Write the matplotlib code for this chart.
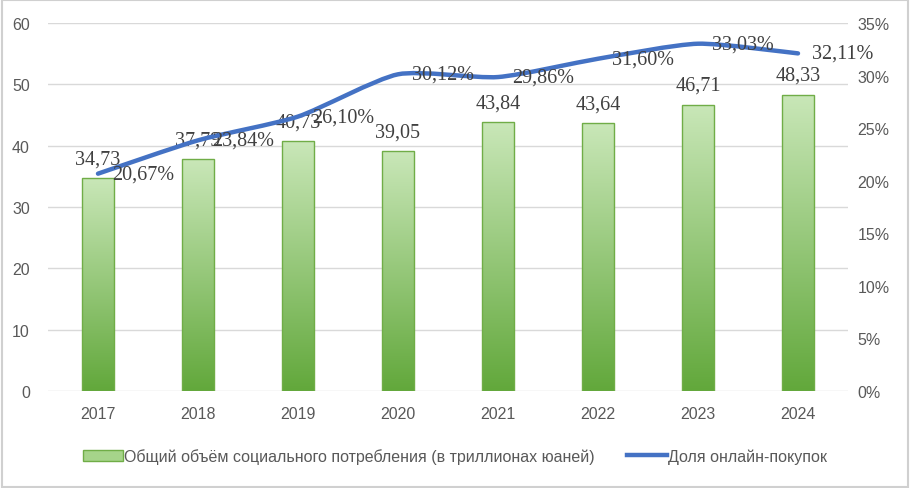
import numpy as np
from matplotlib import pyplot as plt
from matplotlib.patches import Patch, Rectangle, PathPatch
from matplotlib.path import Path
from matplotlib.lines import Line2D
from matplotlib.colors import LinearSegmentedColormap

years = ['2017', '2018', '2019', '2020', '2021', '2022', '2023', '2024']
consumption = [34.73, 37.79, 40.73, 39.05, 43.84, 43.64, 46.71, 48.33]
online_share = [20.67, 23.84, 26.10, 30.12, 29.86, 31.60, 33.03, 32.11]

bar_label = 'Общий объём социального потребления (в триллионах юаней)'
line_label = 'Доля онлайн-покупок'

narrow = ['Liberation Sans Narrow', 'Liberation Sans', 'DejaVu Sans']
serif = ['Liberation Serif', 'DejaVu Serif']
grey = '#595959'
blue = '#4472c4'

def fmt(v, pct=False):
    s = ('%.2f' % v).replace('.', ',')
    return s + '%' if pct else s

def smooth_path(xs, ys, k=0.11):
    # excel-like smoothed line: bezier control points from neighbours
    xs = np.asarray(xs, float); ys = np.asarray(ys, float)
    n = len(xs)
    verts = [(xs[0], ys[0])]
    codes = [Path.MOVETO]
    for i in range(n-1):
        p0 = i-1 if i > 0 else i
        p3 = i+2 if i+2 < n else i+1
        c1 = (xs[i] + (xs[i+1]-xs[p0])*k, ys[i] + (ys[i+1]-ys[p0])*k)
        c2 = (xs[i+1] - (xs[p3]-xs[i])*k, ys[i+1] - (ys[p3]-ys[i])*k)
        verts += [c1, c2, (xs[i+1], ys[i+1])]
        codes += [Path.CURVE4]*3
    return Path(verts, codes)

fig = plt.figure(figsize=(9.1, 4.89), dpi=100)
ax = fig.add_axes([48/910, 1-392/489, 800/910, 368/489])
ax2 = ax.twinx()

x = np.arange(len(years))
bars = ax.bar(x, consumption, width=0.32, facecolor='none',
              edgecolor='#70ad47', linewidth=1.0, zorder=3)

cmap = LinearSegmentedColormap.from_list('g', ['#62a83b', '#c9e7b8'])
grad = np.linspace(0, 1, 256).reshape(-1, 1)
for b in bars:
    im = ax.imshow(grad, cmap=cmap, origin='lower', aspect='auto',
                   extent=[b.get_x(), b.get_x()+b.get_width(), 0, b.get_height()],
                   zorder=2)
    im.set_clip_path(b)

for xi, v in zip(x, consumption):
    ax.annotate(fmt(v), (xi, v), xytext=(0, 7), textcoords='offset points',
                ha='center', va='bottom', fontsize=14.5, family=serif,
                color='#404040', zorder=5)

ax.set_xlim(-0.5, len(years)-0.5)
ax.set_ylim(0, 60)
ax.set_yticks(range(0, 61, 10))
ax.set_xticks(x)
ax.set_xticklabels(years)
ax.grid(axis='y', color='#d9d9d9', linewidth=1, zorder=0)
ax.set_axisbelow(True)

share = np.array(online_share)/100
ax2.add_patch(PathPatch(smooth_path(x, share), facecolor='none', edgecolor=blue,
                        linewidth=3.2, joinstyle='round', capstyle='round', zorder=4))
for xi, v in zip(x, online_share):
    ax2.annotate(fmt(v, True), (xi, v/100), xytext=(10, 0),
                 textcoords='offset points', ha='left', va='center',
                 fontsize=14.5, family=serif, color='#404040', zorder=5)
ax2.set_ylim(0, 0.35)
ax2.set_yticks(np.arange(0, 0.351, 0.05))
ax2.set_yticklabels(['%d%%' % round(t*100) for t in np.arange(0, 0.351, 0.05)])

for a in (ax, ax2):
    for s in a.spines.values():
        s.set_visible(False)
    a.tick_params(length=0, labelsize=11.5, labelcolor=grey)
    for lbl in a.get_xticklabels() + a.get_yticklabels():
        lbl.set_family(narrow)
ax.tick_params(axis='x', pad=11)
ax.tick_params(axis='y', pad=13)
ax2.tick_params(axis='y', pad=7)

handles = [Patch(facecolor='#a6d48a', edgecolor='#70ad47'),
           Line2D([0], [0], color=blue, linewidth=3.2)]
leg = fig.legend(handles, [bar_label, line_label], loc='center',
                 bbox_to_anchor=(0.5, 1-457/489), ncol=2, frameon=False,
                 prop={'family': narrow, 'size': 11.5}, handlelength=2.5,
                 handletextpad=0.1, columnspacing=2.0)
for t in leg.get_texts():
    t.set_color(grey)

fig.patches.append(Rectangle((0.002, 0.003), 0.996, 0.994, transform=fig.transFigure,
                             fill=False, edgecolor='#d0d0d0', linewidth=1.5))

fig.savefig('out.png', dpi=100)
